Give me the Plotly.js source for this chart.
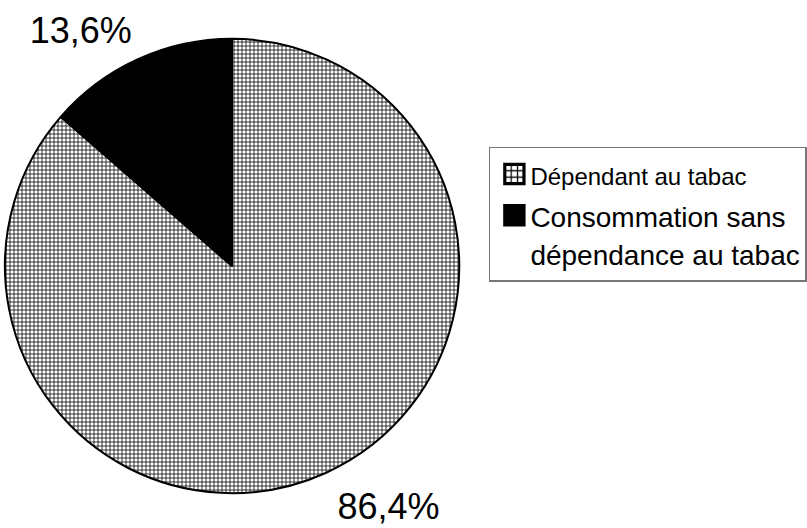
<!DOCTYPE html>
<html>
<head>
<meta charset="utf-8">
<script src="https://cdn.plot.ly/plotly-3.0.1.min.js"></script>
<style>html,body{margin:0;padding:0;background:#fff;}</style>
</head>
<body>
<div id="chart" style="width:807px;height:528px;"></div>
<script>
// Data
var categories = ["Dépendant au tabac", "Consommation sans", "dépendance au tabac"];
var values = [86.4, 13.6];
var sliceColors = ["#ffffff", "#000000"];
var patternShapes = ["+", ""];

var legendLabels = [
  '<span style="font-size:24px">' + categories[0] + '</span>',
  '<span style="font-size:28px">' + categories[1] + '</span><br><span style="font-size:28px">' + categories[2] + '</span>'
];

var trace = {
  type: "pie",
  labels: legendLabels,
  values: values,
  sort: false,
  direction: "clockwise",
  rotation: 0,
  textposition: "outside",
  texttemplate: "%{percent:.1%}",
  textfont: {family: "Liberation Sans, Arial, sans-serif", size: 36, color: "#000"},
  outsidetextfont: {family: "Liberation Sans, Arial, sans-serif", size: 36, color: "#000"},
  hoverinfo: "none",
  marker: {
    colors: sliceColors,
    line: {color: "#000", width: 2},
    pattern: {shape: patternShapes, fgcolor: "#000", bgcolor: "#fff", size: 4, solidity: 0.35}
  },
  domain: {x: [0.0062, 0.5762], y: [0.0606, 0.9318]},
  automargin: false
};

var layout = {
  width: 807, height: 528,
  margin: {l: 0, r: 0, t: 0, b: 0},
  paper_bgcolor: "#fff",
  separators: ", ",
  showlegend: true,
  legend: {
    x: 0.6134, y: 0.722, xanchor: "left", yanchor: "top",
    bgcolor: "#fff", bordercolor: "#777", borderwidth: 1.5,
    font: {family: "Liberation Sans, Arial, sans-serif", size: 29.5, color: "#000"},
    traceorder: "normal",
    valign: "top"
  },
  font: {family: "Liberation Sans, Arial, sans-serif"}
};

Plotly.newPlot("chart", [trace], layout, {staticPlot: true, displayModeBar: false}).then(function(gd){
  var pts = gd.querySelectorAll(".legendpoints path");
  pts.forEach(function(p){ p.setAttribute("transform", "translate(24,0) scale(1.6)"); });
  var nudges = [[1, 17], [4, -12]];
  var slices = gd.querySelectorAll("g.slice");
  slices.forEach(function(s, i){
    var t = s.querySelector("text.slicetext") || s.querySelector(".slicetext text");
    if (!t || !nudges[i]) return;
    var tr = t.getAttribute("transform") || "";
    t.setAttribute("transform", "translate(" + nudges[i][0] + "," + nudges[i][1] + ") " + tr);
  });
});
</script>
</body>
</html>
